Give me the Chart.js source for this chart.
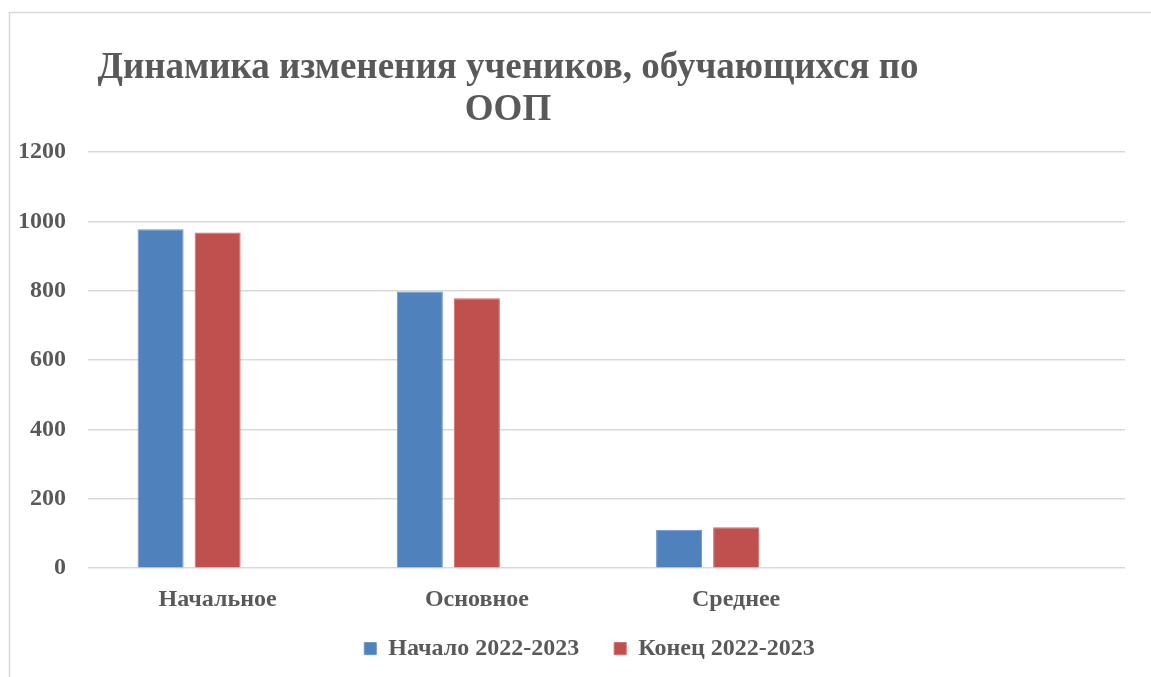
<!DOCTYPE html>
<html>
<head>
<meta charset="utf-8">
<script src="https://cdn.jsdelivr.net/npm/chart.js@4/dist/chart.umd.min.js"></script>
<style>
  html, body { margin: 0; padding: 0; background: #ffffff; }
  #wrap { position: relative; width: 1151px; height: 677px; }
  canvas { display: block; }
</style>
</head>
<body>
<div id="wrap"><canvas id="c" width="1151" height="677"></canvas></div>
<script>
// ---- data ----
const titleLines = ['Динамика изменения учеников, обучающихся по', 'ООП'];
const categories = ['Начальное', 'Основное', 'Среднее', ''];
const seriesNames = ['Начало 2022-2023', 'Конец 2022-2023', ''];
const startValues = [977, 798, 111, null];
const endValues = [968, 778, 118, null];
const emptyValues = [null, null, null, null];
const yTicks = [0, 200, 400, 600, 800, 1000, 1200];

const TEXT = '#595959';
const GRID = '#d9d9d9';
const FONT = '"Liberation Serif", "Times New Roman", serif';
const LEGEND_PAD = 35;

const framePlugin = {
  id: 'frame',
  beforeDraw(chart) {
    const ctx = chart.ctx;
    ctx.save();
    ctx.fillStyle = '#ffffff';
    ctx.fillRect(0, 0, chart.width, chart.height);
    ctx.strokeStyle = GRID;
    ctx.lineWidth = 1.5;
    ctx.strokeRect(9.5, 12.5, 2000, 2000);
    ctx.restore();
  },
  afterLayout(chart) {
    const lg = chart.legend;
    if (lg) {
      lg.left += 27; lg.right += 27;
      lg.top = 651 - 14.4 - LEGEND_PAD;
      lg.bottom = chart.height;
      lg.height = lg.bottom - lg.top;
    }
  },
  afterDraw(chart) {
    const ctx = chart.ctx;
    ctx.save();
    ctx.fillStyle = TEXT;
    ctx.font = 'bold 37px ' + FONT;
    ctx.textAlign = 'center';
    ctx.textBaseline = 'alphabetic';
    ctx.fillText(titleLines[0], 508, 78);
    ctx.fillText(titleLines[1], 508, 120);
    ctx.restore();
  }
};

new Chart(document.getElementById('c'), {
  type: 'bar',
  data: {
    labels: categories,
    datasets: [
      { label: seriesNames[0], data: startValues, backgroundColor: '#4F81BD', borderColor: '#6a95cc', borderWidth: 1 },
      { label: seriesNames[1], data: endValues, backgroundColor: '#C0504D', borderColor: '#d06a67', borderWidth: 1 },
      { label: seriesNames[2], data: emptyValues, backgroundColor: '#9BBB59' }
    ]
  },
  options: {
    responsive: false,
    animation: false,
    devicePixelRatio: 1,
    layout: { padding: { left: 0, right: 26, top: 152, bottom: 0 } },
    datasets: { bar: { categoryPercentage: 0.66, barPercentage: 0.807 } },
    plugins: {
      title: { display: false },
      tooltip: { enabled: false },
      legend: {
        display: true,
        position: 'bottom',
        maxHeight: 46,
        labels: {
          color: TEXT,
          font: { family: FONT, size: 24, weight: 'bold' },
          boxWidth: 12,
          boxHeight: 12,
          padding: LEGEND_PAD,
          filter: (item) => item.datasetIndex < 2
        }
      }
    },
    scales: {
      x: {
        grid: { display: false, drawTicks: false },
        border: { display: false },
        ticks: { color: TEXT, font: { family: FONT, size: 24, weight: 'bold' }, padding: 17, maxRotation: 0 }
      },
      y: {
        min: 0,
        max: 1200,
        afterBuildTicks(scale) { scale.ticks = yTicks.map(v => ({ value: v })); },
        afterFit(scale) { scale.width = 88; },
        grid: { color: GRID, lineWidth: 1.5, drawTicks: false },
        border: { display: false },
        ticks: {
          color: TEXT,
          font: { family: FONT, size: 24, weight: 'bold' },
          padding: 22,
          callback: (v) => String(v)
        }
      }
    }
  },
  plugins: [framePlugin]
});
</script>
</body>
</html>
